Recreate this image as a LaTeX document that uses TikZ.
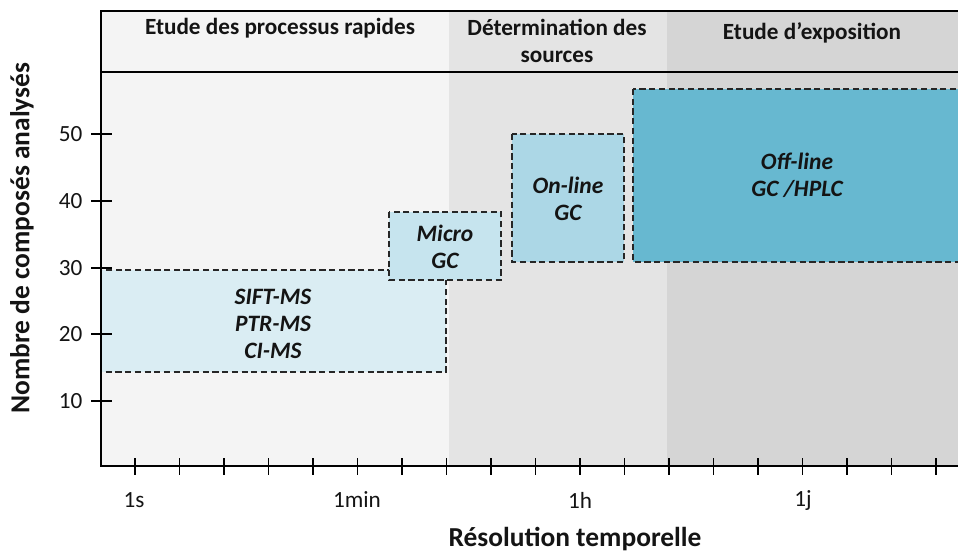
\documentclass[tikz,border=0pt]{standalone}
\usepackage{fontspec}
\setmainfont{Carlito}
\usepackage{tikz}
\usetikzlibrary{positioning}
\definecolor{ZoneLight}{RGB}{244,244,244}
\definecolor{ZoneMid}{RGB}{228,228,228}
\definecolor{ZoneDark}{RGB}{213,213,213}
\definecolor{BoxPale}{RGB}{218,237,243}
\definecolor{BoxLight}{RGB}{198,228,238}
\definecolor{BoxMid}{RGB}{172,215,230}
\definecolor{BoxDeep}{RGB}{103,184,208}
\definecolor{InkGray}{RGB}{20,20,20}

\begin{document}
\begin{tikzpicture}[x=0.025cm, y=-0.025cm, font=\fontsize{16.5}{19}\selectfont,
  axisline/.style={black, line width=1.5pt},
  tickline/.style={black, line width=1.3pt},
  techbox/.style={draw=black!85, line width=1.2pt, dash pattern=on 4.4pt off 2.5pt},
  techlabel/.style={InkGray, align=center, font=\fontsize{16.7}{19}\selectfont\bfseries\itshape},
  zonelabel/.style={InkGray, align=center, font=\fontsize{16.5}{19.2}\selectfont\bfseries}]
  \useasboundingbox (0,0) rectangle (958,555);
  \clip (0,0) rectangle (958,555);

  % Zone backgrounds (time scales)
  \fill[ZoneLight] (101,11) rectangle (449,466);
  \fill[ZoneMid] (449,11) rectangle (667,466);
  \fill[ZoneDark] (667,11) rectangle (962,466);

  % Header band
  \draw[axisline] (100,11) -- (962,11);
  \draw[axisline] (100,72) -- (962,72);
  \node[zonelabel] (hdrfast) at (280,28) {Etude des processus rapides};
  \node[zonelabel] (hdrsrc) at (557,41) {Détermination des\\sources};
  \node[zonelabel] (hdrexpo) at (812,33) {Etude d’exposition};

  % Technique boxes
  \filldraw[techbox, fill=BoxPale] (101,270) rectangle (446,372);
  \filldraw[techbox, fill=BoxLight] (389,212) rectangle (501,280);
  \filldraw[techbox, fill=BoxMid] (512,134) rectangle (624,262);
  \filldraw[techbox, fill=BoxDeep] (633,89) rectangle (966,262);
  \node[techlabel] (sift) at (273,324) {SIFT-MS\\PTR-MS\\CI-MS};
  \node[techlabel] (micro) at (445,247) {Micro\\GC};
  \node[techlabel] (online) at (568,199) {On-line\\GC};
  \node[techlabel] (offline) at (797,175) {Off-line\\GC /HPLC};

  % Axes
  \draw[axisline] (101,11) -- (101,466) -- (962,466);
  \foreach \v in {10,20,...,50}
    \draw[tickline] (91,468-6.68*\v) -- (112,468-6.68*\v)
      node[InkGray, anchor=east] (ylab\v) at (88,468-6.68*\v) {\v};
  \foreach \i in {0,...,18}
    \draw[tickline] (135+44.5*\i,458) -- (135+44.5*\i,475);
  \node[InkGray] (xlabsec) at (134,500) {1s};
  \node[InkGray] (xlabmin) at (357,500) {1min};
  \node[InkGray] (xlabhour) at (580,500) {1h};
  \node[InkGray] (xlabday) at (803,500) {1j};

  % Axis titles
  \node[InkGray, font=\fontsize{19.5}{22}\selectfont\bfseries] (xtitle) at (575,539) {Résolution temporelle};
  \node[InkGray, font=\fontsize{19.5}{22}\selectfont\bfseries, rotate=90] (ytitle) at (22,238) {Nombre de composés analysés};
\end{tikzpicture}
\end{document}
